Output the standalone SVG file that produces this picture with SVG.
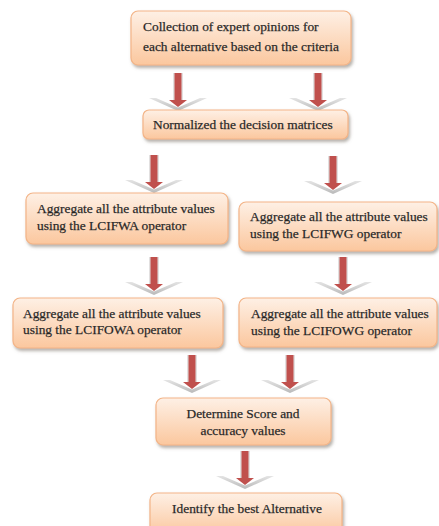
<svg xmlns="http://www.w3.org/2000/svg" xmlns:xlink="http://www.w3.org/1999/xlink" width="439" height="526" viewBox="0 0 439 526">
<style>
.box{fill:url(#boxg);stroke:#f3b487;stroke-width:1.2;filter:url(#sh)}
.t{font-family:"Liberation Serif","Times New Roman",serif;font-size:13.4px;fill:#1c1c1c;stroke:#3a3a3a;stroke-width:0.25}
.c{text-anchor:middle}
</style>
<defs>
<linearGradient id="boxg" x1="0" y1="0" x2="0" y2="1">
<stop offset="0" stop-color="#fef0e5"/>
<stop offset="1" stop-color="#fbc79e"/>
</linearGradient>
<linearGradient id="chev" x1="0" y1="0" x2="0" y2="1">
<stop offset="0" stop-color="#e4e4e4"/>
<stop offset="1" stop-color="#b9b9b9"/>
</linearGradient>
<filter id="sh" x="-10%" y="-10%" width="125%" height="135%">
<feDropShadow dx="1.5" dy="2.5" stdDeviation="1.5" flood-color="#7a7068" flood-opacity="0.55"/>
</filter>
<g id="arr">
<polygon points="-29,25 29,25 0,38" fill="url(#chev)"/>
<polygon points="-22,25 22,25 0,34.5" fill="#ffffff"/>
<rect x="-5" y="0" width="10" height="27" fill="#e2e0e0"/>
<rect x="-3.5" y="0" width="7" height="28" fill="#c0504d"/>
<polygon points="-9,27 9,27 0,34" fill="#c0504d"/>
</g>
</defs>
<rect width="439" height="526" fill="#ffffff"/>
<g id="connectors">
<use xlink:href="#arr" x="178" y="73"/>
<use xlink:href="#arr" x="318" y="73"/>
<use xlink:href="#arr" x="154" y="155"/>
<use xlink:href="#arr" x="333" y="156"/>
<use xlink:href="#arr" x="154" y="257"/>
<use xlink:href="#arr" x="343" y="257"/>
<use xlink:href="#arr" x="192" y="355"/>
<use xlink:href="#arr" x="290" y="355"/>
<use xlink:href="#arr" x="245" y="451"/>
</g>
<g id="n1">
<rect class="box" x="131" y="11" width="220" height="54" rx="7"/>
<text class="t" x="143" y="31">Collection of expert opinions for</text>
<text class="t" x="143" y="51">each alternative based on the criteria</text>
</g>
<g id="n2">
<rect class="box" x="143" y="110" width="205" height="29" rx="6"/>
<text class="t" x="153" y="129">Normalized the decision matrices</text>
</g>
<g id="n3">
<rect class="box" x="26" y="193" width="202" height="51" rx="7"/>
<text class="t" x="37" y="212.5">Aggregate all the attribute values</text>
<text class="t" x="37" y="229.5">using the LCIFWA operator</text>
</g>
<g id="n4">
<rect class="box" x="239" y="202" width="198" height="49" rx="7"/>
<text class="t" x="250" y="221">Aggregate all the attribute values</text>
<text class="t" x="250" y="237.5">using the LCIFWG operator</text>
</g>
<g id="n5">
<rect class="box" x="13" y="298" width="210" height="50" rx="7"/>
<text class="t" x="23" y="317.5">Aggregate all the attribute values</text>
<text class="t" x="23" y="334">using the LCIFOWA operator</text>
</g>
<g id="n6">
<rect class="box" x="239" y="298" width="198" height="49" rx="7"/>
<text class="t" x="251" y="318">Aggregate all the attribute values</text>
<text class="t" x="251" y="335">using the LCIFOWG operator</text>
</g>
<g id="n7">
<rect class="box" x="156" y="398" width="175" height="47" rx="7"/>
<text class="t c" x="243" y="417.5">Determine Score and</text>
<text class="t c" x="243" y="434.5">accuracy values</text>
</g>
<g id="n8">
<rect class="box" x="150" y="493" width="192" height="42" rx="7"/>
<text class="t c" x="247" y="512.5">Identify the best Alternative</text>
</g>
</svg>
